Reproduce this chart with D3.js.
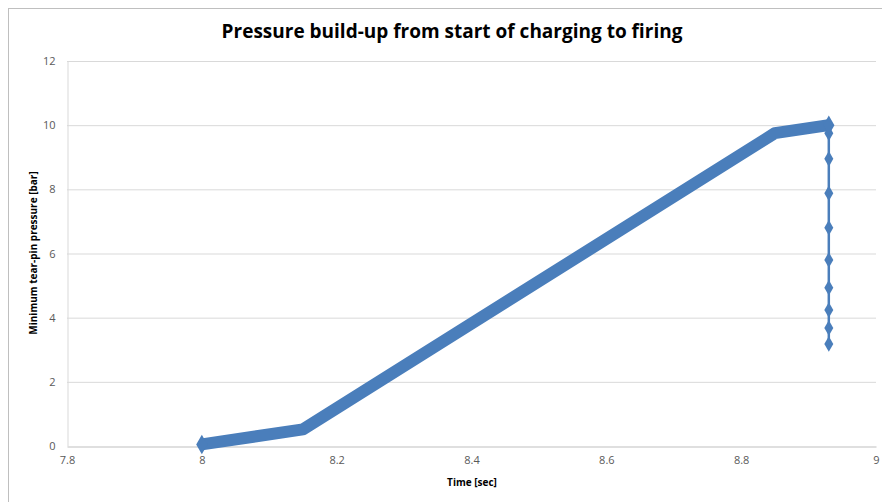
<!DOCTYPE html>
<html>
<head>
<meta charset="utf-8">
<script src="https://cdn.jsdelivr.net/npm/d3@7"></script>
<style>
body{margin:0;background:#fff;}
svg text{font-family:"Open Sans","Liberation Sans",sans-serif;}
</style>
</head>
<body>
<div id="chart"></div>
<script>
// charging phase (time in sec, pressure in bar)
var chargeTime = [8.0, 8.15, 8.85, 8.93];
var chargePress = [0.05, 0.52, 9.75, 10.0];

// firing drop, all at same time
var fireTime = [8.93, 8.93, 8.93, 8.93, 8.93, 8.93, 8.93, 8.93, 8.93, 8.93];
var firePress = [10.0, 9.75, 8.95, 7.88, 6.8, 5.8, 4.93, 4.24, 3.68, 3.18];

var xTicks = [7.8, 8, 8.2, 8.4, 8.6, 8.8, 9];
var yTicks = [0, 2, 4, 6, 8, 10, 12];

var W = 882, H = 502;
var svg = d3.select("#chart").append("svg").attr("width", W).attr("height", H);

svg.append("rect").attr("x", 8.5).attr("y", 8.5).attr("width", 880).attr("height", 500)
  .attr("fill", "#fff").attr("stroke", "#bfbfbf");

var x = d3.scaleLinear().domain([7.8, 9]).range([67, 876]);
var y = d3.scaleLinear().domain([0, 12]).range([446, 61]);

// gridlines
svg.append("g").selectAll("line").data(yTicks.slice(1)).enter().append("line")
  .attr("x1", x(7.8)).attr("x2", x(9))
  .attr("y1", d => y(d) + 0.5).attr("y2", d => y(d) + 0.5)
  .attr("stroke", "#d9d9d9");

var xAxis = svg.append("g").attr("transform", "translate(0," + (y(0) + 0.5) + ")")
  .call(d3.axisBottom(x).tickValues(xTicks).tickSize(0).tickPadding(10).tickFormat(d3.format("")));
var yAxis = svg.append("g").attr("transform", "translate(" + (x(7.8) + 0.5) + ",0)")
  .call(d3.axisLeft(y).tickValues(yTicks).tickSize(0).tickPadding(12));
[xAxis, yAxis].forEach(function(a){
  a.select(".domain").attr("stroke", "#bfbfbf");
  a.selectAll("text").attr("fill", "#595959").style("font-size", "11px")
    .style("font-family", "'Open Sans','Liberation Sans',sans-serif");
});
yAxis.select(".domain").attr("stroke", "#d9d9d9");

var blue = "#4a7ebb";

var lineGen = d3.line().x(d => x(d[0])).y(d => y(d[1]));
var chargeData = chargeTime.map((t, i) => [t, chargePress[i]]);
var fireData = fireTime.map((t, i) => [t, firePress[i]]);

svg.append("path").datum(chargeData).attr("d", lineGen)
  .attr("fill", "none").attr("stroke", blue).attr("stroke-width", 12)
  .attr("stroke-linejoin", "round");

svg.append("path").datum(fireData).attr("d", lineGen)
  .attr("fill", "none").attr("stroke", blue).attr("stroke-width", 2.5);

var diamond = d3.symbol().type(d3.symbolDiamond).size(70);
svg.append("g").selectAll("path").data(fireData).enter().append("path")
  .attr("d", diamond)
  .attr("transform", d => "translate(" + x(d[0]) + "," + y(d[1]) + ")")
  .attr("fill", blue);
// diamond ends of the thick band
svg.append("g").selectAll("path").data([chargeData[0], chargeData[chargeData.length - 1]]).enter().append("path")
  .attr("d", d3.symbol().type(d3.symbolDiamond).size(110))
  .attr("transform", d => "translate(" + x(d[0]) + "," + y(d[1]) + ")")
  .attr("fill", blue);

svg.append("text").attr("x", 452).attr("y", 38).attr("text-anchor", "middle")
  .style("font-size", "19px").style("font-weight", "bold").attr("fill", "#000")
  .text("Pressure build-up from start of charging to firing");

svg.append("text").attr("x", 472).attr("y", 486).attr("text-anchor", "middle")
  .style("font-size", "10px").style("font-weight", "bold").attr("fill", "#000")
  .text("Time [sec]");

svg.append("text").attr("transform", "translate(37,253) rotate(-90)").attr("text-anchor", "middle")
  .style("font-size", "10px").style("font-weight", "bold").attr("fill", "#000")
  .text("Minimum tear-pin pressure [bar]");
</script>
</body>
</html>
